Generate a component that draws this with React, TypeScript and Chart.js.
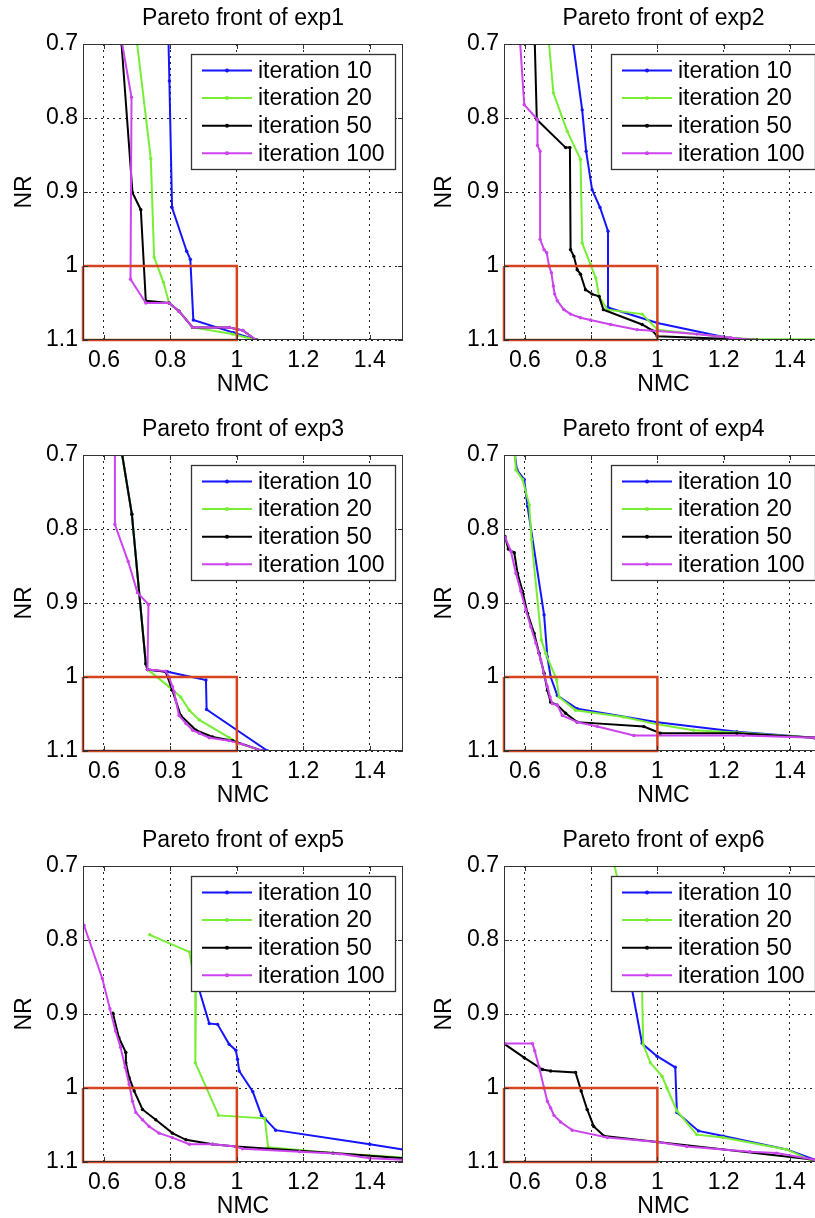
import { useEffect, useRef } from "react";
import { Chart, registerables } from "chart.js";

Chart.register(...registerables);

type P = [number, number];

const SERIES_LABELS = ["iteration 10", "iteration 20", "iteration 50", "iteration 100"];
const SERIES_COLORS = ["#1414ff", "#77ee33", "#000000", "#cc44ee"];
const TITLES = [
  "Pareto front of exp1",
  "Pareto front of exp2",
  "Pareto front of exp3",
  "Pareto front of exp4",
  "Pareto front of exp5",
  "Pareto front of exp6",
];
const X_TICKS = [0.6, 0.8, 1, 1.2, 1.4];
const X_TICK_LABELS = ["0.6", "0.8", "1", "1.2", "1.4"];
const Y_TICKS = [0.7, 0.8, 0.9, 1, 1.1];
const Y_TICK_LABELS = ["0.7", "0.8", "0.9", "1", "1.1"];
const X_RANGE = [0.537, 1.5];
const Y_RANGE = [0.7, 1.1];
const BOX_X = [0.537, 1.0];
const BOX_Y = [1.0, 1.1];

// exp1
const exp1_it10: P[] = [[0.794, 0.69], [0.797, 0.75], [0.805, 0.921], [0.849, 0.98], [0.86, 0.991], [0.869, 1.073], [0.99, 1.09], [1.06, 1.1]];
const exp1_it20: P[] = [[0.7, 0.7], [0.741, 0.855], [0.751, 0.988], [0.779, 1.022], [0.796, 1.05], [0.826, 1.061], [0.867, 1.083], [0.987, 1.092], [1.058, 1.1]];
const exp1_it50: P[] = [[0.653, 0.7], [0.686, 0.901], [0.711, 0.924], [0.726, 1.047], [0.796, 1.05], [0.826, 1.061], [0.867, 1.083], [0.977, 1.083], [1.018, 1.087], [1.058, 1.1]];
const exp1_it100: P[] = [[0.655, 0.7], [0.683, 0.772], [0.68, 1.018], [0.726, 1.05], [0.796, 1.05], [0.826, 1.061], [0.867, 1.083], [0.977, 1.083], [1.018, 1.087], [1.058, 1.1]];

// exp2
const exp2_it10: P[] = [[0.746, 0.7], [0.773, 0.789], [0.785, 0.845], [0.803, 0.897], [0.827, 0.921], [0.851, 0.953], [0.851, 1.056], [1.0, 1.077], [1.2, 1.096], [1.29, 1.1], [1.6, 1.1]];
const exp2_it20: P[] = [[0.673, 0.7], [0.686, 0.766], [0.728, 0.818], [0.768, 0.856], [0.773, 0.969], [0.798, 0.998], [0.814, 1.016], [0.824, 1.041], [0.849, 1.059], [0.954, 1.065], [1.0, 1.086], [1.22, 1.097], [1.29, 1.099], [1.6, 1.099]];
const exp2_it50: P[] = [[0.63, 0.7], [0.636, 0.802], [0.723, 0.84], [0.736, 0.84], [0.738, 0.978], [0.748, 0.987], [0.758, 1.005], [0.768, 1.011], [0.783, 1.032], [0.803, 1.038], [0.824, 1.041], [0.837, 1.059], [0.954, 1.079], [0.984, 1.087], [1.0, 1.095], [1.3, 1.1]];
const exp2_it100: P[] = [[0.586, 0.7], [0.598, 0.782], [0.638, 0.802], [0.638, 0.837], [0.646, 0.845], [0.646, 0.964], [0.658, 0.978], [0.666, 0.982], [0.673, 1.0], [0.68, 1.009], [0.686, 1.027], [0.69, 1.038], [0.698, 1.047], [0.718, 1.059], [0.738, 1.065], [0.768, 1.07], [0.798, 1.073], [0.859, 1.079], [0.939, 1.086], [1.0, 1.088], [1.119, 1.092], [1.22, 1.097], [1.29, 1.1]];

// exp3
const exp3_it10: P[] = [[0.655, 0.7], [0.684, 0.78], [0.726, 0.982], [0.731, 0.99], [0.791, 0.993], [0.907, 1.004], [0.909, 1.044], [1.093, 1.1]];
const exp3_it20: P[] = [[0.655, 0.7], [0.684, 0.78], [0.726, 0.982], [0.731, 0.99], [0.796, 1.013], [0.831, 1.027], [0.857, 1.045], [0.887, 1.058], [0.977, 1.082], [1.008, 1.09], [1.078, 1.1]];
const exp3_it50: P[] = [[0.655, 0.7], [0.684, 0.78], [0.726, 0.982], [0.731, 0.99], [0.786, 0.993], [0.806, 1.018], [0.831, 1.052], [0.877, 1.072], [0.927, 1.081], [0.987, 1.086], [1.078, 1.1]];
const exp3_it100: P[] = [[0.633, 0.7], [0.633, 0.794], [0.673, 0.844], [0.701, 0.886], [0.734, 0.902], [0.731, 0.99], [0.786, 0.992], [0.796, 1.0], [0.806, 1.013], [0.811, 1.02], [0.816, 1.031], [0.826, 1.052], [0.847, 1.063], [0.867, 1.072], [0.887, 1.076], [0.917, 1.082], [0.977, 1.086], [1.018, 1.091], [1.078, 1.1]];

// exp4
const exp4_it10: P[] = [[0.57, 0.7], [0.576, 0.72], [0.598, 0.733], [0.608, 0.769], [0.658, 0.916], [0.668, 0.973], [0.678, 1.0], [0.698, 1.025], [0.758, 1.043], [1.0, 1.061], [1.24, 1.074], [1.475, 1.082], [1.6, 1.085]];
const exp4_it20: P[] = [[0.57, 0.7], [0.573, 0.72], [0.593, 0.733], [0.613, 0.767], [0.62, 0.814], [0.65, 0.95], [0.663, 0.968], [0.696, 1.004], [0.703, 1.027], [0.753, 1.045], [0.899, 1.054], [1.0, 1.064], [1.109, 1.072], [1.24, 1.075], [1.475, 1.082], [1.6, 1.085]];
const exp4_it50: P[] = [[0.54, 0.81], [0.55, 0.827], [0.568, 0.832], [0.578, 0.86], [0.593, 0.884], [0.608, 0.914], [0.628, 0.941], [0.643, 0.968], [0.658, 0.995], [0.668, 1.018], [0.678, 1.034], [0.698, 1.038], [0.723, 1.049], [0.758, 1.061], [0.959, 1.067], [1.009, 1.076], [1.24, 1.076], [1.475, 1.082], [1.6, 1.085]];
const exp4_it100: P[] = [[0.54, 0.811], [0.558, 0.83], [0.573, 0.86], [0.588, 0.884], [0.603, 0.909], [0.618, 0.932], [0.633, 0.954], [0.648, 0.977], [0.66, 1.0], [0.668, 1.013], [0.676, 1.027], [0.683, 1.036], [0.698, 1.038], [0.713, 1.052], [0.758, 1.061], [0.819, 1.067], [0.929, 1.079], [1.0, 1.079], [1.26, 1.079], [1.475, 1.082], [1.6, 1.085]];

// exp5
const exp5_it10: P[] = [[0.87, 0.82], [0.887, 0.868], [0.917, 0.913], [0.942, 0.914], [0.977, 0.941], [0.997, 0.949], [1.002, 0.961], [1.007, 0.977], [1.048, 1.005], [1.074, 1.037], [1.084, 1.041], [1.117, 1.057], [1.4, 1.076], [1.5, 1.083]];
const exp5_it20: P[] = [[0.738, 0.793], [0.857, 0.816], [0.877, 0.868], [0.875, 0.966], [0.945, 1.037], [1.084, 1.041], [1.094, 1.08], [1.289, 1.088], [1.5, 1.094]];
const exp5_it50: P[] = [[0.627, 0.899], [0.645, 0.932], [0.666, 0.952], [0.666, 0.966], [0.676, 0.986], [0.691, 1.004], [0.716, 1.029], [0.756, 1.043], [0.806, 1.061], [0.847, 1.07], [0.927, 1.076], [0.997, 1.079], [1.289, 1.088], [1.5, 1.095]];
const exp5_it100: P[] = [[0.54, 0.78], [0.595, 0.852], [0.618, 0.893], [0.635, 0.923], [0.65, 0.945], [0.664, 0.972], [0.676, 0.995], [0.686, 1.018], [0.696, 1.033], [0.716, 1.043], [0.736, 1.052], [0.766, 1.061], [0.806, 1.067], [0.857, 1.076], [0.927, 1.076], [0.997, 1.079], [1.017, 1.082], [1.189, 1.086], [1.309, 1.089], [1.4, 1.095], [1.5, 1.097]];

// exp6
const exp6_it10: P[] = [[0.905, 0.78], [0.924, 0.868], [0.954, 0.94], [0.999, 0.957], [1.054, 0.972], [1.059, 1.033], [1.124, 1.058], [1.199, 1.065], [1.39, 1.083], [1.475, 1.097], [1.6, 1.1]];
const exp6_it20: P[] = [[0.871, 0.7], [0.954, 0.868], [0.957, 0.941], [0.979, 0.966], [1.014, 0.984], [1.029, 1.0], [1.059, 1.031], [1.119, 1.063], [1.199, 1.067], [1.39, 1.083], [1.46, 1.097], [1.6, 1.1]];
const exp6_it50: P[] = [[0.54, 0.941], [0.598, 0.959], [0.653, 0.975], [0.678, 0.977], [0.753, 0.979], [0.77, 1.004], [0.788, 1.029], [0.808, 1.052], [0.839, 1.065], [1.0, 1.073], [1.475, 1.097]];
const exp6_it100: P[] = [[0.54, 0.94], [0.623, 0.94], [0.63, 0.95], [0.643, 0.972], [0.658, 1.0], [0.668, 1.018], [0.678, 1.027], [0.688, 1.037], [0.708, 1.046], [0.743, 1.057], [0.849, 1.067], [1.0, 1.073], [1.089, 1.079], [1.28, 1.086], [1.36, 1.088], [1.475, 1.097], [1.6, 1.1]];

const EXPERIMENTS: P[][][] = [
  [exp1_it10, exp1_it20, exp1_it50, exp1_it100],
  [exp2_it10, exp2_it20, exp2_it50, exp2_it100],
  [exp3_it10, exp3_it20, exp3_it50, exp3_it100],
  [exp4_it10, exp4_it20, exp4_it50, exp4_it100],
  [exp5_it10, exp5_it20, exp5_it50, exp5_it100],
  [exp6_it10, exp6_it20, exp6_it50, exp6_it100],
];

const FONT = "'Liberation Sans', Arial, Helvetica, sans-serif";
const ROW_TOPS = [0, 411, 822];
const COL_LEFTS = [0, 420];
const Y_AXIS_W = [83, 84];
const CANVAS_W = 410;
const CANVAS_H = 400;

const framePlugin = {
  id: "frameLegend",
  afterDatasetsDraw(chart: any) {
    const { ctx, chartArea: a, scales } = chart;
    ctx.save();
    ctx.strokeStyle = "#333";
    ctx.lineWidth = 1;
    ctx.setLineDash([]);
    ctx.strokeRect(a.left + 0.5, a.top + 0.5, a.right - a.left - 1, a.bottom - a.top - 1);
    ctx.beginPath();
    for (const v of X_TICKS) {
      const x = Math.round(scales.x.getPixelForValue(v)) + 0.5;
      ctx.moveTo(x, a.bottom);
      ctx.lineTo(x, a.bottom - 5);
      ctx.moveTo(x, a.top);
      ctx.lineTo(x, a.top + 5);
    }
    for (const v of Y_TICKS) {
      const y = Math.round(scales.y.getPixelForValue(v)) + 0.5;
      ctx.moveTo(a.left, y);
      ctx.lineTo(a.left + 5, y);
      ctx.moveTo(a.right, y);
      ctx.lineTo(a.right - 5, y);
    }
    ctx.stroke();

    // legend
    const bw = 204;
    const bh = 115;
    const bx = Math.round(a.right - 8 - bw);
    const by = Math.round(a.top + 10);
    ctx.fillStyle = "#ffffff";
    ctx.fillRect(bx, by, bw, bh);
    ctx.strokeStyle = "#333";
    ctx.lineWidth = 1.3;
    ctx.strokeRect(bx + 0.5, by + 0.5, bw, bh);
    ctx.font = `23px ${FONT}`;
    ctx.textBaseline = "middle";
    ctx.textAlign = "left";
    SERIES_LABELS.forEach((lab, i) => {
      const y = by + 16.5 + i * 27.6;
      ctx.strokeStyle = SERIES_COLORS[i];
      ctx.lineWidth = 2;
      ctx.beginPath();
      ctx.moveTo(bx + 11, y);
      ctx.lineTo(bx + 61, y);
      ctx.stroke();
      ctx.fillStyle = SERIES_COLORS[i];
      ctx.beginPath();
      ctx.arc(bx + 36, y, 2, 0, Math.PI * 2);
      ctx.fill();
      ctx.fillStyle = "#000";
      ctx.fillText(lab, bx + 67, y + 1);
    });
    ctx.restore();
  },
};

function ParetoChart({ index }: { index: number }) {
  const ref = useRef<HTMLCanvasElement>(null);
  const col = index % 2;
  const row = Math.floor(index / 2);
  useEffect(() => {
    if (!ref.current) return;
    const series = EXPERIMENTS[index];
    const datasets: any[] = series.map((pts, i) => ({
      label: SERIES_LABELS[i],
      data: pts.map(([x, y]) => ({ x, y })),
      showLine: true,
      borderColor: SERIES_COLORS[i],
      backgroundColor: SERIES_COLORS[i],
      borderWidth: 2,
      pointRadius: 1.7,
      pointBorderWidth: 0,
      pointHoverRadius: 0,
      order: 4 - i,
    }));
    datasets.push({
      label: "box",
      data: [
        { x: BOX_X[0], y: BOX_Y[0] },
        { x: BOX_X[1], y: BOX_Y[0] },
        { x: BOX_X[1], y: BOX_Y[1] },
        { x: BOX_X[0], y: BOX_Y[1] },
        { x: BOX_X[0], y: BOX_Y[0] },
      ],
      showLine: true,
      borderColor: "#d8431f",
      backgroundColor: "#d8431f",
      borderWidth: 2.5,
      pointRadius: 0,
      clip: false,
      order: 0,
    });
    const chart = new Chart(ref.current, {
      type: "scatter",
      data: { datasets },
      options: {
        animation: false,
        responsive: false,
        devicePixelRatio: 1,
        events: [],
        layout: { padding: { left: 0, right: 7, top: 0, bottom: 0 } },
        plugins: {
          legend: { display: false },
          tooltip: { enabled: false },
          title: {
            display: true,
            text: TITLES[index],
            fullSize: false,
            color: "#000",
            font: { family: FONT, size: 23, weight: "normal" },
            padding: { top: 5, bottom: 11.4 },
          },
        },
        scales: {
          x: {
            type: "linear",
            min: X_RANGE[0],
            max: X_RANGE[1],
            afterBuildTicks: (s: any) => {
              s.ticks = X_TICKS.map((v) => ({ value: v }));
            },
            afterFit: (s: any) => {
              s.height = 60;
            },
            ticks: {
              callback: (_v: any, i: number) => X_TICK_LABELS[i],
              color: "#000",
              font: { family: FONT, size: 23 },
              padding: 7,
              autoSkip: false,
              maxRotation: 0,
            },
            grid: { color: "#222", lineWidth: 1, drawTicks: false },
            border: { display: false, dash: [2, 4] },
            title: {
              display: true,
              text: "NMC",
              color: "#000",
              font: { family: FONT, size: 23 },
              padding: { top: 0, bottom: 1.2 },
            },
          },
          y: {
            type: "linear",
            reverse: true,
            min: Y_RANGE[0],
            max: Y_RANGE[1],
            afterBuildTicks: (s: any) => {
              s.ticks = Y_TICKS.map((v) => ({ value: v }));
            },
            afterFit: (s: any) => {
              s.width = Y_AXIS_W[col];
            },
            ticks: {
              callback: (_v: any, i: number) => Y_TICK_LABELS[i],
              color: "#000",
              font: { family: FONT, size: 23 },
              padding: 5,
              autoSkip: false,
            },
            grid: { color: "#222", lineWidth: 1, drawTicks: false },
            border: { display: false, dash: [2, 4] },
            title: {
              display: true,
              text: "NR",
              color: "#000",
              font: { family: FONT, size: 23 },
              padding: { top: 11, bottom: 0 },
            },
          },
        },
      } as any,
      plugins: [framePlugin],
    });
    return () => chart.destroy();
  }, [index, col]);
  return (
    <div
      style={{
        position: "absolute",
        left: COL_LEFTS[col],
        top: ROW_TOPS[row],
        width: CANVAS_W,
        height: CANVAS_H,
      }}
    >
      <canvas ref={ref} width={CANVAS_W} height={CANVAS_H} style={{ width: CANVAS_W, height: CANVAS_H, display: "block" }} />
    </div>
  );
}

export default function App() {
  return (
    <div
      style={{
        position: "fixed",
        left: 0,
        top: 0,
        width: 815,
        height: 1218,
        overflow: "hidden",
        background: "#fff",
      }}
    >
      {TITLES.map((_, i) => (
        <ParetoChart key={i} index={i} />
      ))}
    </div>
  );
}
